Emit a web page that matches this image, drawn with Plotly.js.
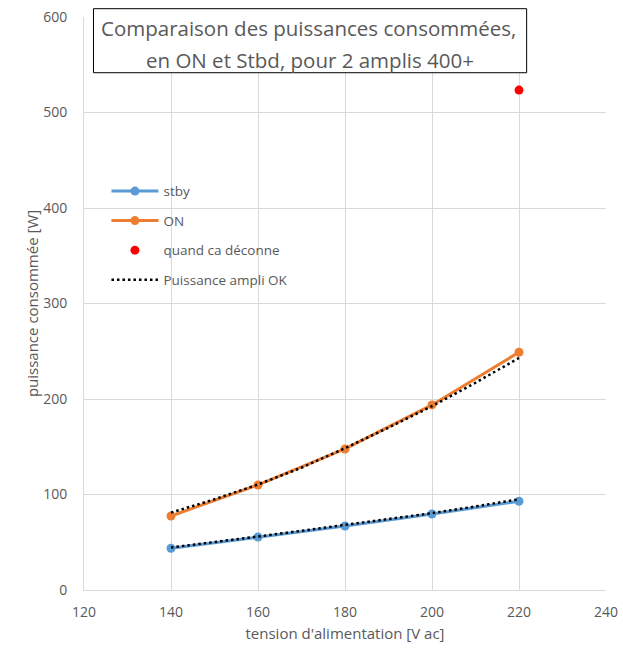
<!DOCTYPE html>
<html><head><meta charset="utf-8">
<script src="https://cdn.plot.ly/plotly-3.0.1.min.js"></script>
<style>html,body{margin:0;padding:0;background:#fff;}#chart{width:623px;height:648px;}</style>
</head><body><div id="chart"></div>
<script>
// Data
const voltage = [140, 160, 180, 200, 220];
const stby = [43.7, 55.5, 67, 79.6, 92.9];
const on = [77.5, 110, 147.7, 193.8, 249];
const errVoltage = [220];
const errPower = [523.5];
const trendVoltage = [140, 150, 160, 170, 180, 190, 200, 210, 220];
const trendStby = [44.5, 50, 56, 62, 68, 74, 80.5, 87.5, 95];
const trendOn = [81, 95, 110.5, 128, 148.5, 170, 192.5, 217, 243];
const titleLines = ["Comparaison des puissances consommées,", "en ON et Stbd, pour 2 amplis 400+"];

const gray = '#595959';
const font = 'Open Sans, Noto Sans, sans-serif';

const traces = [
  {x: voltage, y: stby, name: 'stby', mode: 'lines+markers', legendgroup: 'a',
   line: {color: '#5B9BD5', width: 3}, marker: {color: '#5B9BD5', size: 9}},
  {x: voltage, y: on, name: 'ON', mode: 'lines+markers', legendgroup: 'b',
   line: {color: '#ED7D31', width: 3}, marker: {color: '#ED7D31', size: 9}},
  {x: errVoltage, y: errPower, name: 'quand ca déconne', mode: 'markers', legendgroup: 'c',
   marker: {color: '#FF0000', size: 9}},
  {x: trendVoltage, y: trendStby, name: 'Puissance ampli OK', mode: 'lines', legendgroup: 'd',
   line: {color: '#000000', width: 2.5, dash: '2.5px,3px'}},
  {x: trendVoltage, y: trendOn, name: 'Puissance ampli OK', mode: 'lines', legendgroup: 'd', showlegend: false,
   line: {color: '#000000', width: 2.5, dash: '2.5px,3px'}}
];

const L = 83.5, R = 606.5, T = 17.3, B = 590;
const W = R - L, H = B - T;
const px = v => (v - L) / W;
const py = v => (B - v) / H;

const layout = {
  width: 623, height: 648,
  margin: {l: L, r: 623 - R, t: T, b: 648 - B},
  paper_bgcolor: '#fff', plot_bgcolor: '#fff',
  font: {family: font, color: gray, size: 14},
  showlegend: true,
  legend: {x: px(106), y: py(176), xanchor: 'left', yanchor: 'top', bgcolor: 'rgba(0,0,0,0)',
           itemwidth: 47,
           font: {size: 13.5, color: gray, family: font}, tracegroupgap: 9, traceorder: 'grouped'},
  xaxis: {range: [120, 240], dtick: 20, tick0: 120, gridcolor: '#d9d9d9', gridwidth: 1,
          showline: true, linecolor: '#d9d9d9', zeroline: false,
          ticks: 'outside', ticklen: 9, tickcolor: 'rgba(0,0,0,0)',
          tickfont: {size: 14, color: gray, family: font},
          title: {text: "tension d'alimentation [V ac]", font: {size: 15, color: gray, family: font}, standoff: 8}},
  yaxis: {range: [0, 600], dtick: 100, tick0: 0, gridcolor: '#d9d9d9', gridwidth: 1,
          showline: true, linecolor: '#d9d9d9', zeroline: false,
          ticks: 'outside', ticklen: 13, tickcolor: 'rgba(0,0,0,0)',
          tickfont: {size: 14, color: gray, family: font},
          title: {text: 'puissance consommée [W]', font: {size: 15, color: gray, family: font}, standoff: 0}},
  shapes: [{type: 'rect', xref: 'paper', yref: 'paper', layer: 'above',
            x0: px(93), x1: px(527), y0: py(73), y1: py(9),
            fillcolor: '#ffffff', line: {color: '#000000', width: 1}}],
  annotations: [
    {xref: 'paper', yref: 'paper', x: px(308), y: py(28), xanchor: 'center', yanchor: 'middle',
     text: titleLines[0], showarrow: false, font: {size: 20.5, color: gray, family: font}},
    {xref: 'paper', yref: 'paper', x: px(310), y: py(60), xanchor: 'center', yanchor: 'middle',
     text: titleLines[1], showarrow: false, font: {size: 20.5, color: gray, family: font}}
  ]
};

Plotly.newPlot('chart', traces, layout, {displayModeBar: false, staticPlot: true});
</script></body></html>
